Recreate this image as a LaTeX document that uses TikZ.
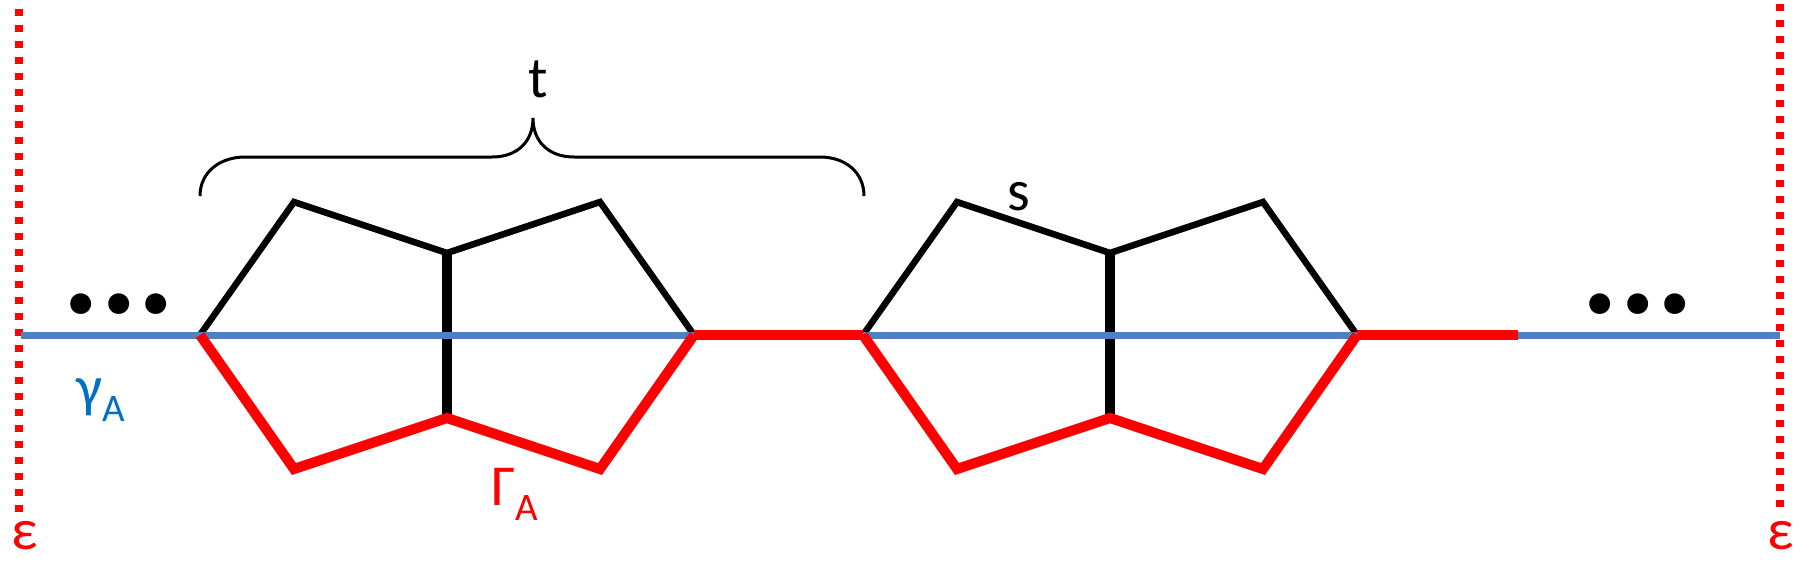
\documentclass[tikz,border=0pt]{standalone}
\usepackage{fontspec}
\setmainfont{Carlito}
\definecolor{lineblue}{RGB}{79,129,189}
\definecolor{textblue}{RGB}{0,112,192}
\newcommand\mysub[1]{\raisebox{-0.26em}{\fontsize{19.5}{20}\selectfont #1}}
\begin{document}
\begin{tikzpicture}[x=0.5pt,y=-0.5pt,
  upper/.style={line width=3.25pt,black,line join=miter},
  midbond/.style={line width=5.25pt,black},
  redbond/.style={line width=5pt,red,line join=miter},
  shadowbond/.style={line width=5pt,black,opacity=0.18,line join=miter},
  bluebond/.style={line width=3.85pt,lineblue},
  edgeline/.style={line width=3.85pt,red,dash pattern=on 3.7pt off 4.3pt},
  brace/.style={line width=1.5pt,black},
  lbl/.style={inner sep=0pt,font=\fontsize{29}{34}\selectfont},
  dots/.style={inner sep=0pt,font=\fontsize{70}{74}\selectfont\bfseries}]
\useasboundingbox (0,0) rectangle (1809,562);
% vertices
\foreach \o/\n in {0/a,663/b}{
  \coordinate (\n L) at (200+\o,335);
  \coordinate (\n TL) at (294+\o,202);
  \coordinate (\n TM) at (447+\o,253);
  \coordinate (\n TR) at (600+\o,202);
  \coordinate (\n R) at (694+\o,335);
  \coordinate (\n BL) at (294+\o,469);
  \coordinate (\n BM) at (447+\o,418);
  \coordinate (\n BR) at (600+\o,469);
}
\coordinate (blueL) at (21,335.5);
\coordinate (blueR) at (1780,335.5);
\coordinate (redEnd) at (1518,335);
\coordinate (dotLtop) at (19,9);
\coordinate (dotLbot) at (19,520);
\coordinate (dotRtop) at (1780,4);
\coordinate (dotRbot) at (1780,511);
% dotted boundaries
\draw[edgeline] (dotLtop) -- (dotLbot);
\draw[edgeline] (dotRtop) -- (dotRbot);
% shadows
\begin{scope}[shift={(2,4)}]
\foreach \n in {a,b}{
  \draw[shadowbond] (\n L) -- (\n BL) -- (\n BM) -- (\n BR) -- (\n R);
}
\draw[shadowbond] (aR) -- (bL);
\draw[shadowbond] (bR) -- (redEnd);
\end{scope}
% black bonds
\foreach \n in {a,b}{
  \draw[upper] (\n L) -- (\n TL) -- (\n TM) -- (\n TR) -- (\n R);
  \draw[midbond] (\n TM) -- (\n BM);
}
% blue line
\draw[bluebond] (blueL) -- (blueR);
% red path
\draw[redbond] (aR) -- (bL);
\draw[redbond] (bR) -- (redEnd);
\foreach \n in {a,b}{
  \draw[redbond] (\n L) -- (\n BL) -- (\n BM) -- (\n BR) -- (\n R);
}
% brace
\coordinate (brL) at (200,196);
\coordinate (brM) at (533,118);
\coordinate (brR) at (864,196);
\draw[brace] (brL) .. controls (200,172) and (220,157) .. (245,157) -- (492,157)
  .. controls (517,157) and (533,142) .. (brM)
  .. controls (533,142) and (549,157) .. (574,157) -- (820,157)
  .. controls (845,157) and (864,172) .. (brR);
% labels
\node[lbl,anchor=base] (t) at (538,97) {t};
\node[lbl,anchor=base] (s) at (1019,210) {s};
\node[lbl,anchor=base west,red] (GA) at (491,505) {Γ\mysub{A}};
\node[lbl,anchor=base west,textblue] (gA) at (76,406) {γ\mysub{A}};
\node[lbl,anchor=base,red] (eL) at (25,549) {ε};
\node[lbl,anchor=base,red] (eR) at (1781,549) {ε};
\node[dots,anchor=base] (dL) at (119,313) {...};
\node[dots,anchor=base] (dR) at (1638,313) {...};
\end{tikzpicture}
\end{document}
